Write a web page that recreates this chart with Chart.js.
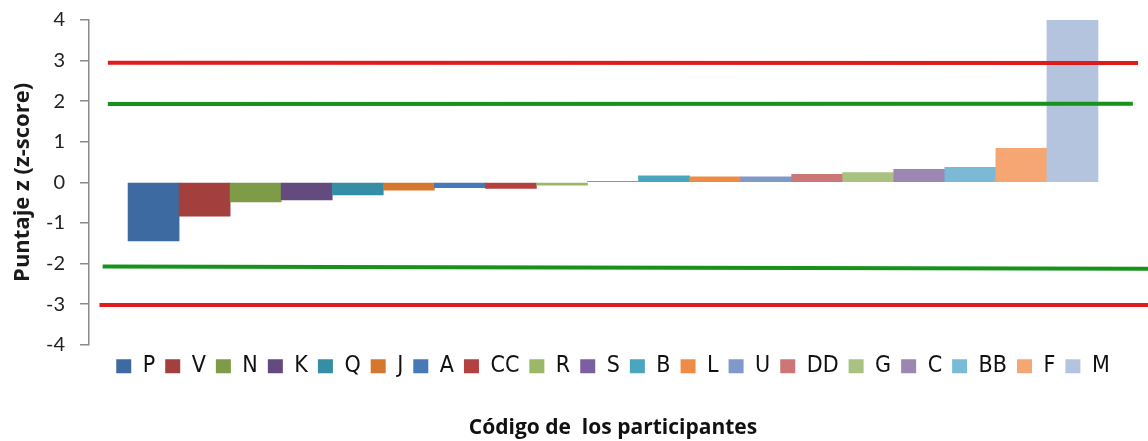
<!DOCTYPE html>
<html>
<head>
<meta charset="utf-8">
<script src="https://cdn.jsdelivr.net/npm/chart.js@4"></script>
<style>
html,body{margin:0;padding:0;background:#fff;}
#wrap{width:1148px;height:441px;}
</style>
</head>
<body>
<div id="wrap"><canvas id="c" width="1148" height="441"></canvas></div>
<script>
const participants = ['P','V','N','K','Q','J','A','CC','R','S','B','L','U','DD','G','C','BB','F','M'];
const zScores = [-1.44,-0.83,-0.48,-0.43,-0.31,-0.19,-0.13,-0.15,-0.07,0.02,0.16,0.14,0.14,0.20,0.24,0.32,0.37,0.84,4.0];
const barColors = ['#3D6AA0','#A33F3C','#7E9B48','#654A80','#368DA6','#D6772E','#4679B6','#B4403F','#9CB767','#7C5FA0','#4AA5BE','#EE8C45','#8199C8','#CC7776','#A9C27F','#9B87B2','#7BBAD6','#F6A673','#B4C4DE'];
const yTicks = [-4,-3,-2,-1,0,1,2,3,4];
// reference limits: value at left end and at right end of each line
const refNames = ['+3','+2','-2','-3'];
const refLeft = [2.95, 1.93, -2.07, -3.02];
const refRight = [2.94, 1.94, -2.13, -3.02];
const refColors = ['#E01B1D','#17921B','#17921B','#E01B1D'];
const refXStart = [1.8, 1.8, 1.3, 1.0];
const refXEnd = [100.1, 99.6, 101.2, 101.2];

const sideGap = 0.765; // empty space at each side of the bar group, in bar widths
const n = participants.length;

const datasets = [{
  type: 'bar',
  label: 'z',
  data: participants.map((p, i) => ({ x: i, y: zScores[i] })),
  backgroundColor: barColors,
  borderWidth: 0,
  categoryPercentage: 1,
  barPercentage: 1,
  grouped: false,
  xAxisID: 'x',
  order: 1
}];
refNames.forEach((nm, i) => {
  datasets.push({
    type: 'line',
    label: nm,
    data: [{x: refXStart[i], y: refLeft[i]}, {x: refXEnd[i], y: refRight[i]}],
    borderColor: refColors[i],
    borderWidth: 4,
    pointRadius: 0,
    xAxisID: 'xLine',
    clip: false,
    order: 0
  });
});

new Chart(document.getElementById('c'), {
  data: { datasets },
  options: {
    responsive: false,
    animation: false,
    devicePixelRatio: 1,
    layout: { padding: { left: 0, right: 11, top: 6, bottom: 0 } },
    scales: {
      x: {
        type: 'linear', display: false, offset: false,
        min: -0.5 - sideGap, max: n - 0.5 + sideGap,
        afterBuildTicks: s => { s.ticks = participants.map((p, i) => ({ value: i })); }
      },
      xLine: { type: 'linear', display: false, offset: false, min: 0, max: 100 },
      y: {
        min: -4, max: 4,
        afterFit: s => { s.width = 89; s.paddingTop = 20; },
        afterBuildTicks: s => { s.ticks = yTicks.map(v => ({ value: v })); },
        ticks: {
          padding: 15,
          color: '#222',
          font: { family: 'Lato, "Open Sans", sans-serif', size: 20 }
        },
        grid: { drawOnChartArea: false, drawTicks: true, tickLength: 9, color: '#8a8a8a', lineWidth: 1.5 },
        border: { display: true, color: '#8a8a8a', width: 1.5 },
        title: {
          display: true,
          text: 'Puntaje z (z-score)',
          color: '#1a1a1a',
          padding: { top: 10, bottom: 0 },
          font: { family: '"Open Sans", Lato, sans-serif', size: 22, weight: 'bold' }
        }
      }
    },
    plugins: {
      tooltip: { enabled: false },
      legend: {
        position: 'bottom',
        fullSize: false,
        labels: {
          boxWidth: 15,
          boxHeight: 14,
          padding: 10,
          color: '#111',
          font: { family: '"DejaVu Sans Condensed", "Liberation Sans Narrow", sans-serif', size: 23 },
          generateLabels: chart => participants.map((p, i) => ({
            text: p,
            fillStyle: barColors[i],
            strokeStyle: barColors[i],
            lineWidth: 0,
            fontColor: '#111',
            hidden: false,
            index: i,
            datasetIndex: 0
          }))
        },
        onClick: () => {}
      },
      title: {
        display: true,
        position: 'bottom',
        fullSize: false,
        text: 'Código de  los participantes',
        color: '#111',
        padding: { top: 28, bottom: 0 },
        font: { family: '"Open Sans", Lato, sans-serif', size: 21, weight: 'bold' }
      }
    }
  }
});
</script>
</body>
</html>
